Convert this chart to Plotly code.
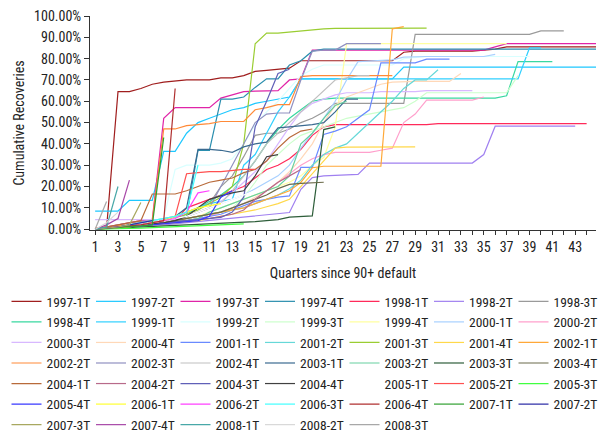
import plotly.graph_objects as go

cohorts = ["1997-1T","1997-2T","1997-3T","1997-4T","1998-1T","1998-2T","1998-3T",
           "1998-4T","1999-1T","1999-2T","1999-3T","1999-4T","2000-1T","2000-2T",
           "2000-3T","2000-4T","2001-1T","2001-2T","2001-3T","2001-4T","2002-1T",
           "2002-2T","2002-3T","2002-4T","2003-1T","2003-2T","2003-3T","2003-4T",
           "2004-1T","2004-2T","2004-3T","2004-4T","2005-1T","2005-2T","2005-3T",
           "2005-4T","2006-1T","2006-2T","2006-3T","2006-4T","2007-1T","2007-2T",
           "2007-3T","2007-4T","2008-1T","2008-2T","2008-3T"]

# cumulative recoveries in %, one value per quarter since default (quarter 1, 2, ...)
r_1997_1 = [0,0.5,64.5,64.5,66,68,69,69.5,70,70,70,71,71,72,74,74.5,75,75.5,79,79,79,79,79,79,79,79,79,83,83.5,83.5,83.5,83.5,83.5,83.5,84,84.5,85.5,85.5,85.5,85.5,85.5,85.5,85.5,85.5,85.5,85.5,85.5,85.5]
r_1997_2 = [8.5,8.5,8.5,13.5,13.5,13.5,36.5,36.5,45,50,52,54,56,57,59,60,61,62,70.5,70.5,70.5,70.5,70.5,70.5,70.5,70.5,70.5,76,76,76,76,76,76,76,76,76,76,76,76,76,76,76,76,76,76,76,76]
r_1997_3 = [0,1,2,3,4,4.5,52,57,57,57,57,61.5,63,64.5,64.8,65,65,70,70.5,84,84,84,84,84,84,84,84,84,84,84,84,84,84,84,84,85.5,87,87,87,87,87,87,87,87,87,87]
r_1997_4 = [0,0.5,1,1.5,2,3,4,5,6,37,37,61,61,62,66.5,70.5,70.5,77,79,83.5,84.5,84.5,84.5,84.5,84.5,84.5,84.5,84.5,84.5,84.5,84.5,84.5,84.5,84.5,84.5,84.5,84.5,84.5,84.5,84.5,84.5,84.5,84.5,84.5,84.5]
r_1998_1 = [0,0.5,1,1.5,2,2.5,3,4,10,12,14,16,18,20,24,28,30,33,37.5,44,48,49,49,49,49,49,49,49,49,49,49.5,49.5,49.5,49.5,49.5,49.5,49.5,49.5,49.5,49.5,49.5,49.5,49.5,49.5]
r_1998_2 = [0,0.5,1,1,1.5,2,2,2.5,3,3.5,4,4.5,5,5.5,6,6.5,7,7.8,18.7,24.2,25,25.2,25.5,25.7,31,31,31,31,31,31,31,31,31,31,35,48.3,48.3,48.3,48.3,48.3,48.3,48.3,48.3]
r_1998_3 = [0,1,2,3,3.5,4,5,6,8,10,12,20,25,34,44,45,45,47,50,52,55,59,59,59,59,59,59,59,91.4,91.4,91.4,91.4,91.4,91.4,91.4,91.4,91.4,91.4,91.4,93,93,93]
r_1998_4 = [0,0.5,1,1.5,2,3,4,5,7,10,13,16,20,25,32,40,46.7,52,56,60,61,61.5,61.5,61.5,61.5,61.5,61.5,61.5,61.5,61.5,61.5,61.5,61.5,61.5,61.5,61.5,62.6,78.6,78.6,78.6,78.6]
r_1999_1 = [0,0.5,1,1.5,2,3,4,5,6,10,12,13,14,30,35,45,55,62,70.5,70.5,70.5,70.5,70.5,70.5,70.5,70.5,70.5,70.5,70.5,70.5,70.5,70.5,70.5,70.5,70.5,70.5,70.5,70.5,85,85]
r_1999_2 = [0,0.5,1,2,3,4,5,28,30,30,30,31,33,40,49,55,60,66,72,75,77,77,77,77,77,77,77,80,80.5,81,81,81,81,81,81,81,81,81,81]
r_1999_3 = [0,0.5,1,1.5,2,2.5,3,4,5,6,7,8,10,15,22,30,35,40,44,46,48,50,52,53,54,55,56,57,60,64,64,64,64,64,64,64,64,72]
r_1999_4 = [0,0.5,1,1.5,2,2.5,3,4,5,6,8,10,12,14,16,18,20,22,25,30,33.6,48,87,87,87,87,87,87,87,87,87,87,87,87,87,87,87]
r_2000_1 = [0,0.5,1,1.5,2,3,4,5,6,8,10,12,14,16,19,22,25,30,38,45,52,60,70,78.6,78.8,79,79.4,80.7,81,81,81,81,81,81,81,82]
r_2000_2 = [0,0.5,1,1.5,2,2.5,3,3.5,4,5,6,8,10,12,14,18,22,26,30,33,35,36,36,36,36,37,38,50,54,60.5,60.5,60.5,60.5,60.5,62]
r_2000_3 = [4.5,4.5,4.5,4.5,4.5,4.5,4.5,4.5,6,8,10,13,17,22,27,32,40,48,55,59,61,63,64,64,64,64.5,64.5,64.5,64.5,65,65,65,65,65]
r_2000_4 = [0,0.5,1,1.5,2,2.5,3,4,5,6,7,8,10,12,15,18,22,27,33,40,50,58,62,64,66,68,69,69.3,69.3,69.3,69.3,69.3,73]
r_2001_1 = [0,0.5,1,1.5,2,2.5,3,3.5,4,5,6,7,9,11,13,14,15,15.6,29,29,44.4,46,48,52,56,78,78,78,78,79.8,79.8,79.8]
r_2001_2 = [0,0.5,1,1.5,2,2.5,3,4,5,6,7,8,9,10,12,14,16,19,23,30,35,38,40,45,50,55,60,66,70,70,74.8]
r_2001_3 = [0,0.5,1,1.5,2,3,4,5,7,9,12,15,20,40,87,92,92,92.5,93,93.8,94,94.2,94.2,94.2,94.3,94.3,94.3,94.3,94.3,94.3]
r_2001_4 = [0,0.3,0.6,1,1.5,2,2.5,3,3.5,4,5,6,7,8,9,10.5,12,14,20,26,32,38,38.5,38.5,38.5,38.5,38.5,38.5,38.6]
r_2002_1 = [0,0.5,1,1.5,2,2.5,3,4,5,6,7,8,9,10,12,14,16,18,22,28.8,29.5,29.5,29.5,29.5,29.5,29.5,94,95]
r_2002_2 = [0.5,1,1.5,2,3,4,47,47,48.6,49,49.5,50.5,50.5,50.5,56,57,58.4,58.4,71.6,72,72,72,72,72,72,72,72]
r_2002_3 = [0,0.5,1,1.5,2,3,4,5,6,8,10,20,30,40,50,54,54.5,54.5,70,83.5,84,84,87,87,87,87]
r_2002_4 = [0,0.5,1,1.5,2,3,4,5,6,8,10,12,18,25,32,40,45,50,55,60,65,70,71,72,72]
r_2003_1 = [0,0.5,1,1.5,2,3,4,6,10,37.4,37.4,37,36,38.6,40,40.8,47.5,48,48.5,49,50,55,61,61]
r_2003_2 = [0,0.5,1,1.5,2,2.5,3,3.5,4,5,8,10,12,14,16,18,20,25,40,45,52,58,60]
r_2003_3 = [0,0.3,0.5,0.8,1,1.2,1.5,1.8,2,2.2,2.5,2.8,3,3.2,3.5,4,4.5,5.6,6,6.2,46.7,48]
r_2003_4 = [0,0.5,1,1.5,2,2.5,3,4,5,6,7,8,10,12,14,16,19,21,21.5,21.8,22]
r_2004_1 = [0,1,2,3,4,16.5,16.5,16.5,18,20,22,23,24,26.5,28,32,38,43,46,47]
r_2004_2 = [0,0.5,1,1.5,2,2.5,3,3.5,4,4.5,5,6,7,9,14,18,22,25,28]
r_2004_3 = [0,0.5,1,1.5,2,2.5,3,3.5,4,4.5,5,5.5,8,15,48,60,73,75]
r_2004_4 = [0,0.5,1,1.5,2,2.5,3,4,6,10,14,15.6,17,18,25,34,35]
r_2005_1 = [0,0.5,1,1.5,2,3,4,5,6,8,10,12,14,16,18,20]
r_2005_2 = [0,0.5,1,1.5,2,3,4,6,26,26.5,27,27,27.5,28,28]
r_2005_3 = [0,0,0.2,0.3,0.5,0.7,1,1.2,1.5,1.8,2,2.2,2.4,2.5]
r_2005_4 = [0,0.3,0.6,1,1.5,2,2.5,3,3.5,4,6,15,18]
r_2006_1 = [0,0.3,0.6,1,2,3,4,6,8,10,11,12]
r_2006_2 = [0,0.5,1,1.5,2,3,4,5,8,17,18]
r_2006_3 = [0,0.5,1,2,3,4,5,6,8,30]
r_2006_4 = [0,0.5,1,1.5,2,3,4,66]
r_2007_1 = [0,0.3,0.6,1,1.5,2,43]
r_2007_2 = [0,0.5,1,2,3,4]
r_2007_3 = [0,0.5,1,2,12.5]
r_2007_4 = [0,2,5,23]
r_2008_1 = [0,1,20]
r_2008_2 = [0,3,8]
r_2008_3 = [0,13]

series_values = [r_1997_1,r_1997_2,r_1997_3,r_1997_4,r_1998_1,r_1998_2,r_1998_3,
                 r_1998_4,r_1999_1,r_1999_2,r_1999_3,r_1999_4,r_2000_1,r_2000_2,
                 r_2000_3,r_2000_4,r_2001_1,r_2001_2,r_2001_3,r_2001_4,r_2002_1,
                 r_2002_2,r_2002_3,r_2002_4,r_2003_1,r_2003_2,r_2003_3,r_2003_4,
                 r_2004_1,r_2004_2,r_2004_3,r_2004_4,r_2005_1,r_2005_2,r_2005_3,
                 r_2005_4,r_2006_1,r_2006_2,r_2006_3,r_2006_4,r_2007_1,r_2007_2,
                 r_2007_3,r_2007_4,r_2008_1,r_2008_2,r_2008_3]

x_tick_values = list(range(1, 45))
x_tick_labels = [str(q) if q % 2 == 1 else "" for q in x_tick_values]
y_tick_values = [0, 0.1, 0.2, 0.3, 0.4, 0.5, 0.6, 0.7, 0.8, 0.9, 1.0]

colors = ["#A01E1E","#1EC8FF","#E024A8","#2A8EAE","#FF2A5A","#A080F0","#9A9A9A",
          "#38D8A0","#30D0FF","#D8FFFF","#CCFFCC","#FFFFA0","#A8D0FF","#FFA0CC",
          "#D8B8FF","#FFD8B8","#6A8AFF","#66D8D8","#9ACD32","#FFD84A","#FFA838",
          "#FF8A38","#9090C0","#C0C0C0","#3A6A90","#66D0A0","#2E5E3A","#6B6B4A",
          "#B86A3A","#B86A8A","#6060B8","#404040","#FFFFFF","#FF5050","#40FF40",
          "#3838FF","#FFFF30","#FF40FF","#40FFFF","#B03030","#30A030","#3030A8",
          "#A8A860","#A848A8","#48A8A8","#D8D8D8","#A8A8A8"]

FONT = "Liberation Sans Narrow, Arial Narrow, Roboto Condensed, DejaVu Sans Condensed, sans-serif"
N_COLS = 7
PLOT_L, PLOT_W = 90, 506

fig = go.Figure()
for i, (name, vals, col) in enumerate(zip(cohorts, series_values, colors)):
    c = i % N_COLS
    fig.add_trace(go.Scatter(
        x=list(range(1, len(vals) + 1)),
        y=[v / 100 for v in vals],
        mode="lines", name=name,
        line=dict(color=col, width=1.2),
        legend="legend" if c == 0 else f"legend{c + 1}",
    ))

legend_layout = {}
for c in range(N_COLS):
    px = 6.5 + c * 84.5
    key = "legend" if c == 0 else f"legend{c + 1}"
    legend_layout[key] = dict(
        orientation="v", x=(px - PLOT_L) / PLOT_W, y=-0.262,
        xanchor="left", yanchor="top", font=dict(size=13.5, family=FONT),
        itemwidth=30, bgcolor="rgba(0,0,0,0)", tracegroupgap=0,
    )

fig.update_layout(
    width=598, height=433,
    margin=dict(l=90, r=2, t=16, b=203, autoexpand=False),
    paper_bgcolor="white", plot_bgcolor="white",
    font=dict(family=FONT, size=14, color="#222222"),
    showlegend=True,
    xaxis=dict(range=[0.55, 44.82], tickmode="array", tickvals=x_tick_values,
               ticktext=x_tick_labels, ticks="outside", ticklen=4,
               showline=True, linecolor="#333333", linewidth=1, tickcolor="#333333",
               showgrid=False, zeroline=False, automargin=False,
               title=dict(text="Quarters since 90+ default", font=dict(size=14), standoff=14),
               tickfont=dict(size=14)),
    yaxis=dict(range=[-0.004, 1.0], tickmode="array", tickvals=y_tick_values,
               tickformat=".2%", ticks="outside", ticklen=5,
               showline=True, linecolor="#333333", linewidth=1, tickcolor="#333333",
               showgrid=False, zeroline=False, automargin=False,
               title=dict(text="Cumulative Recoveries", font=dict(size=14), standoff=6),
               tickfont=dict(size=14)),
    **legend_layout,
)

fig.write_html("out.html", config={"displayModeBar": False},
               post_script="document.body.style.margin='0px';")
